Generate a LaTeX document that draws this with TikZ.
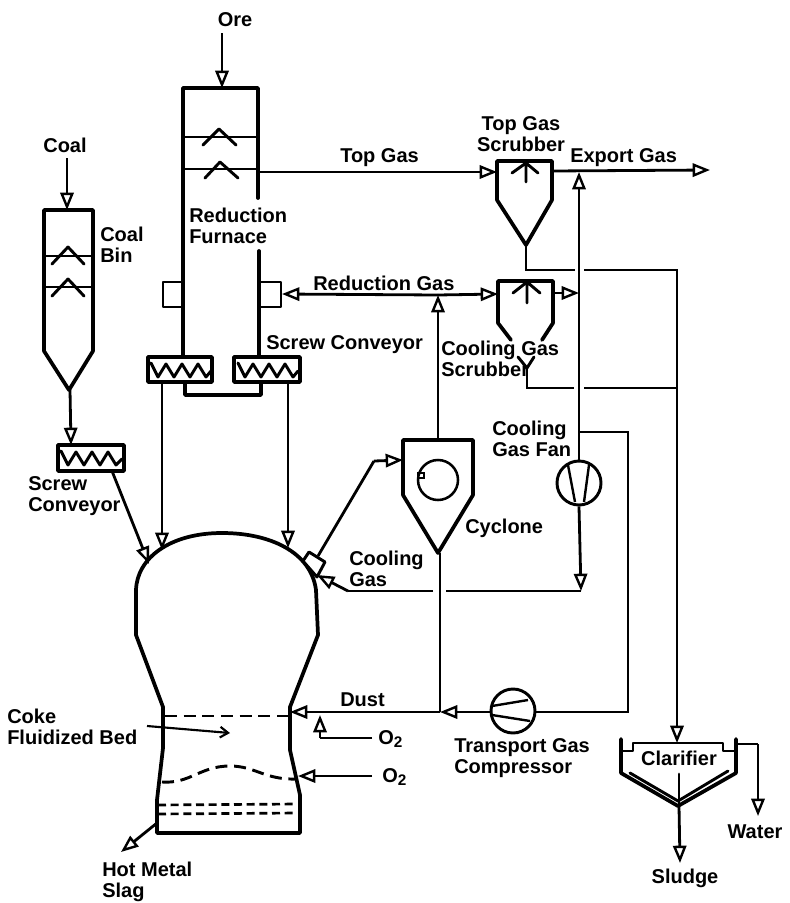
\documentclass[tikz,border=0pt]{standalone}
\usepackage{fontspec}
\setmainfont{Liberation Sans}
\usetikzlibrary{arrows.meta}
\tikzset{
  x=0.75pt,y=-0.75pt,
  conn/.style={line width=2.1pt,line join=miter},
  flow/.style={conn,-{Triangle[open,length=13pt,width=10pt,line width=1.8pt]}},
  vessel/.style={line width=2.8pt,line join=round,line cap=round},
  thin part/.style={line width=2.2pt,line join=round,line cap=round},
  bed/.style={line width=2.2pt,dash pattern=on 9pt off 5pt},
  finer/.style={line width=2pt,dash pattern=on 6pt off 3.5pt},
  machine/.style={circle,draw,line width=2.2pt,minimum size=33pt,inner sep=0pt},
  lbl/.style={inner sep=0pt,font=\fontsize{15}{15.8}\selectfont\bfseries,align=left,anchor=west},
  clbl/.style={inner sep=0pt,font=\fontsize{15}{15.8}\selectfont\bfseries,align=center,anchor=center}
}
\newcommand{\Osub}{O\raisebox{-2.5pt}{\fontsize{11.5}{11.5}\selectfont 2}}
\begin{document}
\begin{tikzpicture}
\useasboundingbox (0,0) rectangle (789,903);

% ---- anchors for connectors
\coordinate (oreS) at (222,33);   \coordinate (furnTop) at (222,88);
\coordinate (coalS) at (67,158);  \coordinate (binTop) at (67,210);
\coordinate (binTip) at (70,390); \coordinate (screwLTop) at (71,445);
\coordinate (screwLOut) at (112,471); \coordinate (domeL1) at (149,564);
\coordinate (screwAOut) at (162,382); \coordinate (domeL2) at (162,550);
\coordinate (screwBOut) at (288,382); \coordinate (domeR) at (288,548);
\coordinate (furnGas) at (259,172); \coordinate (topIn) at (497,172);
\coordinate (topOut) at (552,171); \coordinate (exportEnd) at (710,170);
\coordinate (exportJ) at (579,172);
\coordinate (topTip) at (526,245); \coordinate (topTail) at (526,270);
\coordinate (gapAL) at (575,270); \coordinate (gapAR) at (584,270);
\coordinate (sludgeC) at (677,270); \coordinate (clarTop) at (677,743);
\coordinate (coolTip) at (527,368); \coordinate (coolTail) at (527,388);
\coordinate (gapBL) at (574,388); \coordinate (gapBR) at (584,388);
\coordinate (sludgeJ) at (677,388);
\coordinate (furnPort) at (282,294); \coordinate (coolIn) at (498,294);
\coordinate (riserJ) at (438,295); \coordinate (cycTop) at (438,440);
\coordinate (coolOut) at (553,293); \coordinate (mainJ) at (579,293);
\coordinate (portOut) at (318,556); \coordinate (bend) at (374,461);
\coordinate (cycIn) at (403,460);
\coordinate (cycTip) at (440,553); \coordinate (dustJ) at (440,712);
\coordinate (dustIn) at (290,712);
\coordinate (coolBend) at (581,591); \coordinate (gapCR) at (446,591);
\coordinate (gapCL) at (433,591); \coordinate (coolKnee) at (348,591);
\coordinate (domeCool) at (317,575);
\coordinate (fanBranch) at (580,432); \coordinate (corner1) at (628,432);
\coordinate (corner2) at (628,712);
\coordinate (oxA) at (372,738); \coordinate (oxAk) at (320,738); \coordinate (oxAt) at (320,715);
\coordinate (oxB) at (372,776); \coordinate (oxBt) at (298,776);
\coordinate (bedFrom) at (147,726); \coordinate (bedTo) at (230,733);
\coordinate (tapFrom) at (157,823); \coordinate (tapTo) at (121,852);
\coordinate (clarOut) at (679,806); \coordinate (sludgeEnd) at (680,863);
\coordinate (clarOver) at (736,744); \coordinate (waterK) at (758,744); \coordinate (waterEnd) at (758,816);

% ---- Reduction furnace
\draw[vessel] (258,198)--(258,88)--(183,88)--(183,356);
\draw[vessel] (259,251)--(259,356);
\draw[thin part] (183,137)--(258,137) (183,169)--(258,169);
\draw[thin part] (203,145)--(219,129)--(236,145);
\draw[thin part] (205,178)--(220,162)--(238,178);
\draw[thin part] (183,282)--(163,282)--(163,307)--(183,307);
\draw[thin part] (259,282)--(281,282)--(281,307)--(259,307);
\draw[vessel] (185,382)--(185,395)--(261,395)--(261,382);
\draw[vessel] (148,357) rectangle (212,382);
\draw[vessel] (234,357) rectangle (300,382);
\draw[thin part] (151,363)--(158,377)--(166,364)--(174,377)--(182,364)--(190,377)--(198,364)--(206,377)--(211,371);
\draw[thin part] (238,363)--(245,377)--(253,364)--(261,377)--(269,364)--(277,377)--(285,364)--(293,377)--(298,371);

% ---- Coal bin
\draw[vessel] (93,210)--(44,210)--(44,351)--(69,390)--(93,351)--cycle;
\draw[thin part] (44,256)--(93,256) (44,287)--(93,287);
\draw[thin part] (52,264)--(68,247)--(84,264);
\draw[thin part] (52,296)--(68,279)--(84,296);
\draw[vessel] (58,445) rectangle (124,471);
\draw[thin part] (61,451)--(68,465)--(76,452)--(84,465)--(92,452)--(100,465)--(108,452)--(116,465)--(122,459);

% ---- Top gas scrubber
\draw[vessel] (552,161)--(497,161)--(497,200)--(526,245)--(552,200)--cycle;
\draw[thin part] (526,182)--(526,163) (512,173)--(526,163)--(538,173);

% ---- Cooling gas scrubber
\draw[vessel] (511,340)--(498,323)--(498,281)--(553,281)--(553,323)--(542,340);
\draw[thin part] (527,303)--(527,282) (513,293)--(527,282)--(540,293);
\draw[thin part] (518,357)--(527,368)--(534,357);

% ---- Cyclone
\draw[vessel] (473,440)--(403,440)--(403,495)--(438,553)--(473,495)--cycle;
\node[circle,draw,line width=1.9pt,minimum size=30pt,inner sep=0pt] (swirl) at (438,480) {};
\draw[line width=1.4pt] (418,473) rectangle (424,478);

% ---- Smelter
\draw[vessel] (157,833)--(157,800)--(163,748)--(163,707)--(136,635)--(136,590)
  .. controls (137,558) and (170,533) .. (222,533)
  .. controls (270,533) and (311,552) .. (316,590)
  -- (318,635)--(290,707)--(290,750)--(300,795)--(300,833)--cycle;
\draw[thin part,fill=white] (303,561)--(309,552)--(325,562)--(317,577)--cycle;
\draw[bed] (165,716)--(289,716);
\draw[bed] (162,782) .. controls (190,784) and (200,766) .. (230,766)
  .. controls (255,766) and (265,780) .. (296,779);
\draw[finer] (158,805)--(297,804);
\draw[finer] (158,814)--(297,813);

% ---- Fan and compressor
\node[machine] (fan) at (579,483) {};
\draw[line width=1.8pt] (568,465)--(575,502) (589,465)--(584,502);
\node[machine] (comp) at (513,711) {};
\draw[line width=1.8pt] (492,706)--(528,700) (492,715)--(530,721);

% ---- Clarifier
\draw[vessel] (621,739)--(621,773)--(678,806)--(736,773)--(736,739);
\draw[thin part] (621,751)--(633,751)--(633,743)--(723,743)--(723,751)--(736,751);
\draw[thin part] (630,773)--(678,801)--(728,771);
\draw[thin part] (679,774)--(679,806);

% ---- Connectors
\draw[flow] (oreS)--(furnTop);
\draw[flow] (coalS)--(binTop);
\draw[flow] (binTip)--(screwLTop);
\draw[flow] (screwLOut)--(domeL1);
\draw[flow] (screwAOut)--(domeL2);
\draw[flow] (screwBOut)--(domeR);
\draw[flow] (furnGas)--(topIn);
\draw[flow] (topOut)--(exportEnd);
\draw[conn] (topTip)--(topTail)--(gapAL);
\draw[conn] (gapAR)--(sludgeC)--(sludgeJ);
\draw[flow] (sludgeJ)--(clarTop);
\draw[conn] (coolTip)--(coolTail)--(gapBL);
\draw[conn] (gapBR)--(sludgeJ);
\draw[flow] (riserJ)--(furnPort);
\draw[flow] (riserJ)--(coolIn);
\draw[flow] (cycTop)--(riserJ);
\draw[flow] (coolOut)--(mainJ);
\draw[conn] (portOut)--(bend);
\draw[flow] (bend)--(cycIn);
\draw[conn] (cycTip)--(dustJ);
\draw[flow] (dustJ)--(dustIn);
\draw[flow] (fan.north)--(exportJ);
\draw[flow] (fan.south)--(coolBend);
\draw[conn] (coolBend)--(gapCR);
\draw[conn] (gapCL)--(coolKnee);
\draw[flow] (coolKnee)--(domeCool);
\draw[conn] (fanBranch)--(corner1)--(corner2)--(comp.east |- corner2);
\draw[flow] (comp.west |- dustJ)--(dustJ);
\draw[conn] (oxA)--(oxAk);
\draw[flow] (oxAk)--(oxAt);
\draw[flow] (oxB)--(oxBt);
\draw[line width=1.6pt,-{Straight Barb[length=6pt,width=8pt]}] (bedFrom)--(bedTo);
\draw[flow] (tapFrom)--(tapTo);
\draw[flow] (clarOut)--(sludgeEnd);
\draw[conn] (clarOver)--(waterK);
\draw[flow] (waterK)--(waterEnd);

% ---- Labels
\node[clbl] (tOre) at (235,20) {Ore};
\node[clbl] (tCoal) at (65,145) {Coal};
\node[lbl] (tBin) at (100,245) {Coal\\Bin};
\node[lbl] (tFurn) at (189,226) {Reduction\\Furnace};
\node[lbl] (tTop) at (340,158) {Top Gas};
\node[clbl] (tScrubT) at (521,134) {Top Gas\\Scrubber};
\node[lbl] (tExport) at (570,158) {Export Gas};
\node[lbl] (tRed) at (313,283) {Reduction Gas};
\node[lbl] (tScrewR) at (266,345) {Screw Conveyor};
\node[lbl] (tScrubC) at (441,359) {Cooling Gas\\Scrubber};
\node[lbl] (tFan) at (492,439) {Cooling\\Gas Fan};
\node[lbl] (tCyc) at (465,528) {Cyclone};
\node[lbl] (tCool) at (349,569) {Cooling\\Gas};
\node[lbl] (tScrewL) at (28,496) {Screw\\Conveyor};
\node[lbl] (tDust) at (340,700) {Dust};
\node[lbl] (tCoke) at (7,727) {Coke\\Fluidized Bed};
\node[lbl] (tO1) at (378,739) {\Osub};
\node[lbl] (tO2) at (382,777) {\Osub};
\node[lbl] (tTrans) at (454,758) {Transport Gas\\Compressor};
\node[clbl] (tClar) at (679,758) {Clarifier};
\node[clbl] (tWater) at (755,832) {Water};
\node[clbl] (tSludge) at (685,878) {Sludge};
\node[lbl] (tHot) at (102,882) {Hot Metal\\Slag};
\end{tikzpicture}
\end{document}
